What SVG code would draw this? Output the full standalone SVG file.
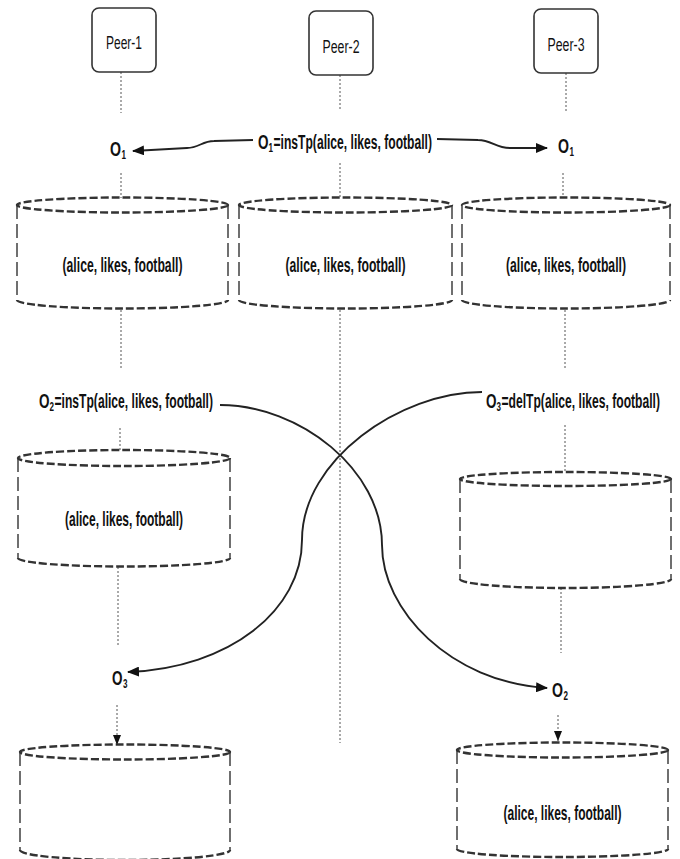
<svg xmlns="http://www.w3.org/2000/svg" width="680" height="859" viewBox="0 0 680 859">
<defs>
<style>
.box{fill:#fff;stroke:#333;stroke-width:1.6}
.life{fill:none;stroke:#555;stroke-width:1;stroke-dasharray:2 2}
.cylE{fill:none;stroke:#333;stroke-width:2.4;stroke-dasharray:8 3}
.cylS{fill:none;stroke:#333;stroke-width:1.4;stroke-dasharray:14 5}
.conn{fill:none;stroke:#222;stroke-width:1.9}
.lbl{font-family:"Liberation Sans",Arial,sans-serif;font-weight:bold;font-size:20px;fill:#111}
.db{font-family:"Liberation Sans",Arial,sans-serif;font-weight:bold;font-size:21px;fill:#111;text-anchor:middle}
.sub{font-family:"Liberation Sans",Arial,sans-serif;font-weight:bold;font-size:12px;fill:#111}
.peer{font-family:"Liberation Sans",Arial,sans-serif;font-size:18px;fill:#111;text-anchor:middle}
</style>
<marker id="ah" markerUnits="userSpaceOnUse" markerWidth="12" markerHeight="10" refX="11" refY="5" orient="auto">
<path d="M0,0 L12,5 L0,10 Z" fill="#111"/>
</marker>
<marker id="ahs" markerUnits="userSpaceOnUse" markerWidth="10" markerHeight="8" refX="10" refY="4" orient="auto">
<path d="M0,0 L10,4 L0,8 Z" fill="#111"/>
</marker>
</defs>

<g id="lifelines">
<path class="life" d="M121,72 V113 M121,173 V198 M121,310 V370 M120,428 V450 M118,567 V645"/>
<path class="life" d="M340,75 V110 M340,163 V197 M340,310 V743"/>
<path class="life" d="M566,73 V112 M563,173 V197 M565,310 V370 M565,425 V472 M561,588 V653"/>
</g>

<g id="peer1"><rect class="box" x="92" y="8" width="64" height="64" rx="7"/><text class="peer" x="124" y="49" textLength="36" lengthAdjust="spacingAndGlyphs">Peer-1</text></g>
<g id="peer2"><rect class="box" x="309" y="11" width="64" height="64" rx="7"/><text class="peer" x="341" y="53" textLength="37" lengthAdjust="spacingAndGlyphs">Peer-2</text></g>
<g id="peer3"><rect class="box" x="534" y="9" width="64" height="64" rx="7"/><text class="peer" x="566" y="51" textLength="37" lengthAdjust="spacingAndGlyphs">Peer-3</text></g>

<g id="op1"><text class="lbl" x="258" y="149" textLength="10.5" lengthAdjust="spacingAndGlyphs">O</text><text class="sub" x="268.5" y="152" textLength="4.5" lengthAdjust="spacingAndGlyphs">1</text><text class="lbl" x="273.5" y="149" textLength="158.5" lengthAdjust="spacingAndGlyphs">=insTp(alice, likes, football)</text></g>
<g id="o1-left"><text class="lbl" x="110" y="156" textLength="11" lengthAdjust="spacingAndGlyphs">O</text><text class="sub" x="121.5" y="159" textLength="4.5" lengthAdjust="spacingAndGlyphs">1</text></g>
<g id="o1-right"><text class="lbl" x="558" y="153" textLength="11" lengthAdjust="spacingAndGlyphs">O</text><text class="sub" x="569.5" y="156" textLength="4.5" lengthAdjust="spacingAndGlyphs">1</text></g>

<g id="db1-1"><ellipse class="cylE" cx="122.5" cy="205" rx="105.5" ry="7.5"/><path class="cylS" d="M17,205 V300 M228,205 V300"/><path class="cylE" d="M17,300 A105.5,8.5 0 0 0 228,300"/><text class="db" x="122.5" y="272" textLength="120" lengthAdjust="spacingAndGlyphs">(alice, likes, football)</text></g>
<g id="db2-1"><ellipse class="cylE" cx="345.5" cy="205" rx="106.5" ry="7.5"/><path class="cylS" d="M239,205 V300 M452,205 V300"/><path class="cylE" d="M239,300 A106.5,8.5 0 0 0 452,300"/><text class="db" x="345.5" y="272" textLength="120" lengthAdjust="spacingAndGlyphs">(alice, likes, football)</text></g>
<g id="db3-1"><ellipse class="cylE" cx="566" cy="205" rx="104" ry="7.5"/><path class="cylS" d="M462,205 V300 M670,205 V300"/><path class="cylE" d="M462,300 A104,8.5 0 0 0 670,300"/><text class="db" x="566" y="272" textLength="120" lengthAdjust="spacingAndGlyphs">(alice, likes, football)</text></g>

<g id="op2"><text class="lbl" x="39" y="408" textLength="10.5" lengthAdjust="spacingAndGlyphs">O</text><text class="sub" x="49.5" y="411" textLength="4.5" lengthAdjust="spacingAndGlyphs">2</text><text class="lbl" x="54.5" y="408" textLength="158.5" lengthAdjust="spacingAndGlyphs">=insTp(alice, likes, football)</text></g>
<g id="op3"><text class="lbl" x="486" y="408" textLength="10.5" lengthAdjust="spacingAndGlyphs">O</text><text class="sub" x="496.5" y="411" textLength="4.5" lengthAdjust="spacingAndGlyphs">3</text><text class="lbl" x="501.5" y="408" textLength="158.5" lengthAdjust="spacingAndGlyphs">=delTp(alice, likes, football)</text></g>

<g id="db1-2"><ellipse class="cylE" cx="124" cy="458" rx="106" ry="8"/><path class="cylS" d="M18,458 V558 M230,458 V558"/><path class="cylE" d="M18,558 A106,8.5 0 0 0 230,558"/><text class="db" x="124" y="526" textLength="118" lengthAdjust="spacingAndGlyphs">(alice, likes, football)</text></g>
<g id="db3-2"><ellipse class="cylE" cx="565.5" cy="479" rx="105.5" ry="7"/><path class="cylS" d="M460,479 V579 M671,479 V579"/><path class="cylE" d="M460,579 A105.5,9 0 0 0 671,579"/></g>

<g id="o3"><text class="lbl" x="112" y="685" textLength="10.5" lengthAdjust="spacingAndGlyphs">O</text><text class="sub" x="123" y="688" textLength="4.5" lengthAdjust="spacingAndGlyphs">3</text></g>
<g id="o2"><text class="lbl" x="552" y="697" textLength="11" lengthAdjust="spacingAndGlyphs">O</text><text class="sub" x="563.5" y="700" textLength="4.5" lengthAdjust="spacingAndGlyphs">2</text></g>

<g id="db1-3"><ellipse class="cylE" cx="125" cy="752" rx="105" ry="7.5"/><path class="cylS" d="M20,752 V850 M230,752 V850"/><path class="cylE" d="M20,850 A105,10 0 0 0 230,850"/></g>
<g id="db3-3"><ellipse class="cylE" cx="562.5" cy="750" rx="105.5" ry="7.5"/><path class="cylS" d="M457,750 V849 M668,750 V849"/><path class="cylE" d="M457,849 A105.5,8 0 0 0 668,849"/><text class="db" x="562.5" y="820" textLength="118" lengthAdjust="spacingAndGlyphs">(alice, likes, football)</text></g>

<g id="connectors">
<path class="conn" d="M253,140 L214,141 C202,141 199,148 187,148 L133,151" marker-end="url(#ah)"/>
<path class="conn" d="M437,139 L478,140 C492,140 495,148 510,148 L547,148" marker-end="url(#ah)"/>
<path class="conn" d="M220,405 C300,405 382,470 382,545 C382,610 450,682 547,688" marker-end="url(#ah)"/>
<path class="conn" d="M482,392 C400,392 302,460 302,540 C302,610 230,668 128,672" marker-end="url(#ah)"/>
<path class="life" d="M117,705 V745" marker-end="url(#ahs)"/>
<path class="life" d="M558,715 V741" marker-end="url(#ahs)"/>
</g>
</svg>
